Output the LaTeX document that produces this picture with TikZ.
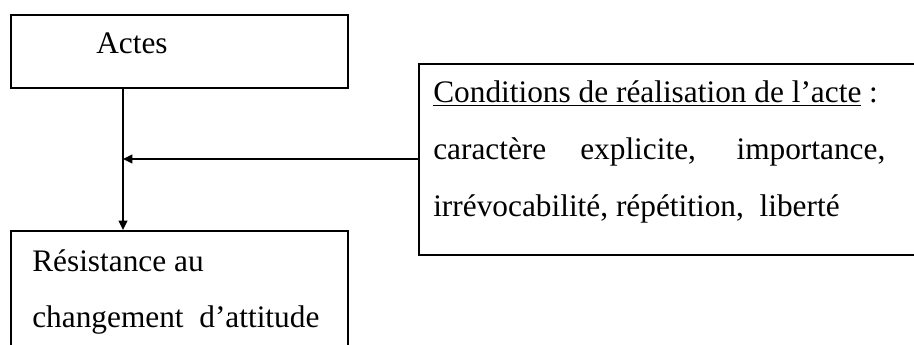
\documentclass[tikz,border=0pt]{standalone}
\usepackage{fontspec}
\setmainfont{Liberation Serif}
\usetikzlibrary{arrows.meta, positioning, calc}

\begin{document}
\begin{tikzpicture}[
    x=0.75pt, y=-0.75pt,
    boite/.style={rectangle, draw, line width=1.4pt, anchor=north west, inner sep=0pt},
    ligne/.style={anchor=base west, inner sep=0pt, font=\fontsize{23.5}{28}\selectfont},
    fleche/.style={-{Triangle[length=7pt, width=6.5pt]}, line width=1.1pt}
]
    % cadre
    \useasboundingbox (0,0) rectangle (914,345);
    \clip (0,0) rectangle (914,345);

    % Actes
    \node[boite, minimum width=252.75pt, minimum height=54.75pt] (actes) at (10,14) {};
    \node[ligne] (actestxt) at (96,54) {Actes};

    % Resistance au changement
    \node[boite, minimum width=252.75pt, minimum height=127.5pt] (resist) at (10,230) {};
    \node[ligne] (resist1) at (32,272) {Résistance au};
    \node[ligne] (resist2) at (32,328) {changement\ \ d’attitude};

    % Conditions
    \node[boite, minimum width=406.5pt, minimum height=143.25pt] (cond) at (418,63) {};
    \node[ligne] (cond1) at (433,103) {\underline{Conditions de réalisation de l’acte} :};
    \node[ligne] (cond2) at (433,160) {\makebox[339pt][s]{caractère explicite, importance,}};
    \node[ligne] (cond3) at (433,217) {irrévocabilité, répétition,\ \ liberté};

    % Fleches
    \coordinate (jonction) at (123,159);
    \draw[fleche] (actes.south -| jonction) -- (resist.north -| jonction);
    \draw[fleche] (cond.west |- jonction) -- (jonction);
\end{tikzpicture}
\end{document}
